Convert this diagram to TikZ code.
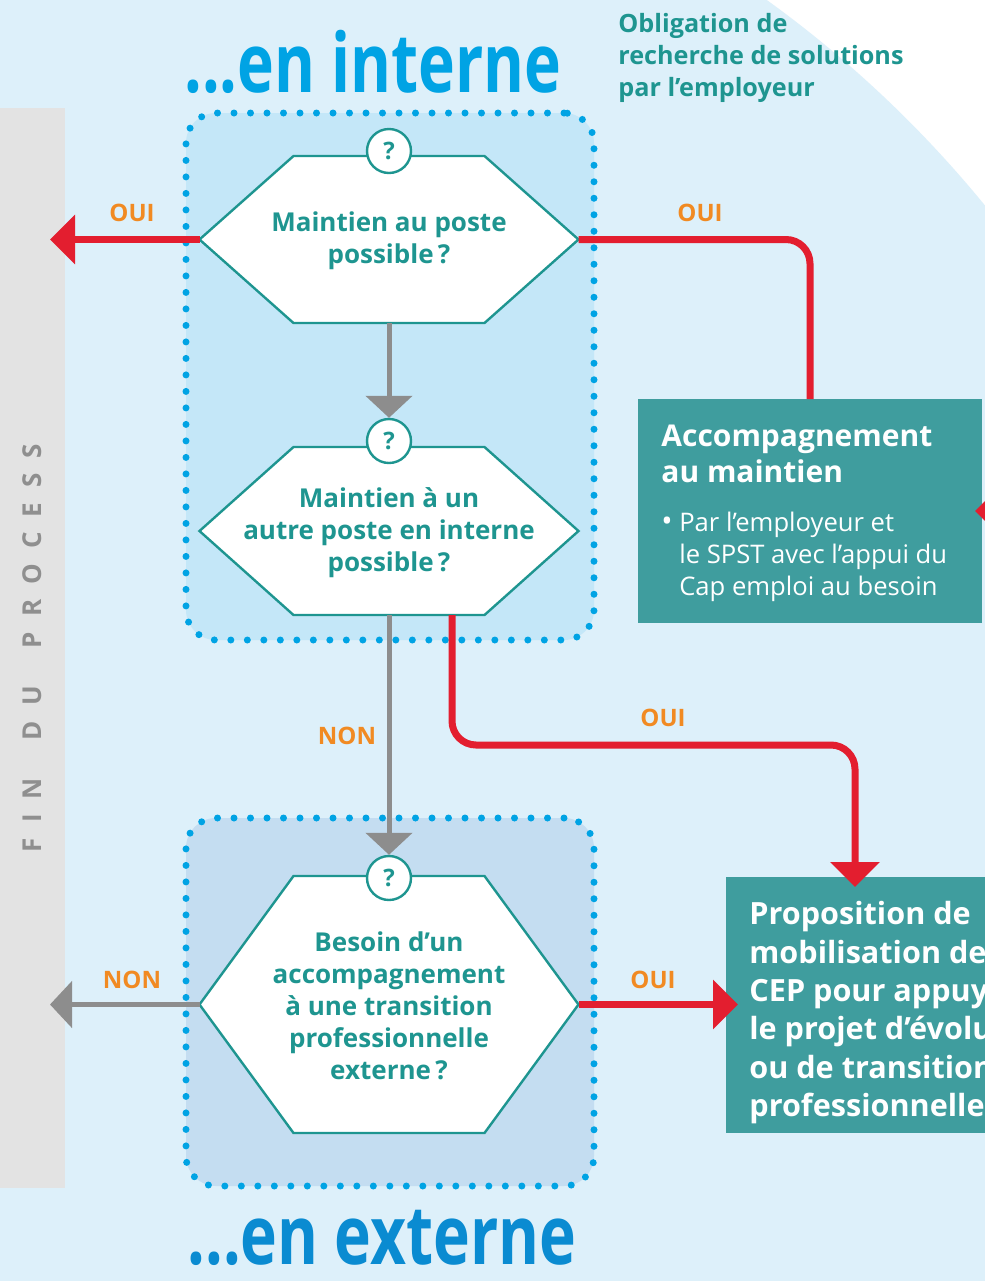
\documentclass[tikz,border=0pt]{standalone}
\usepackage{fontspec}
\setmainfont{Open Sans}
\newfontfamily\headfont[FakeStretch=0.76]{Open Sans}
\usetikzlibrary{arrows.meta,positioning,calc}
\definecolor{bgblue}{HTML}{DDF0FA}
\definecolor{zonetop}{HTML}{C4E7F8}
\definecolor{zonebot}{HTML}{C4DDF1}
\definecolor{dotblue}{HTML}{00A3E4}
\definecolor{titledark}{HTML}{0A8BD1}
\definecolor{qteal}{HTML}{1E9590}
\definecolor{boxteal}{HTML}{3F9D9E}
\definecolor{alertred}{HTML}{E31E2F}
\definecolor{answerorange}{HTML}{F18A22}
\definecolor{arrowgray}{HTML}{8D8D8D}
\definecolor{bargray}{HTML}{E3E3E3}
\definecolor{fingray}{HTML}{8F8F8F}

\pgfdeclarelayer{bg}
\pgfdeclarelayer{hex}
\pgfsetlayers{bg,hex,main}

\tikzset{
  zone/.style={
    draw=dotblue,
    line width=3.5pt,
    line cap=round,
    dash pattern=on 0pt off 8.25pt,
    rounded corners=15pt,
    minimum width=204pt,
    inner sep=0pt,
    outer sep=0pt
  },
  finbar/.style={
    fill=bargray,
    minimum width=32.5pt,
    minimum height=540pt,
    inner sep=0pt,
    outer sep=0pt
  },
  headline/.style={
    font=\headfont\bfseries\fontsize{41}{41}\selectfont,
    inner sep=0pt
  },
  hexq/.style={
    inner sep=0pt,
    outer sep=0pt,
    minimum width=189.5pt,
    align=center,
    text=qteal,
    font=\bfseries\fontsize{13}{16}\selectfont
  },
  hexline/.style={
    draw=qteal,
    fill=white,
    line width=1.2pt
  },
  qmark/.style={
    circle,
    draw=qteal,
    line width=1.2pt,
    fill=white,
    minimum size=22pt,
    inner sep=0pt,
    text=qteal,
    font=\bfseries\fontsize{12}{12}\selectfont
  },
  tealbox/.style={
    fill=boxteal,
    anchor=north west,
    inner sep=0pt,
    outer sep=0pt
  },
  boxtext/.style={
    align=left,
    text=white,
    inner sep=0pt
  },
  redline/.style={
    draw=alertred,
    line width=3.5pt
  },
  redarrow/.style={
    redline,
    -{Triangle[length=12.5pt,width=24pt]}
  },
  grayarrow/.style={
    draw=arrowgray,
    line width=2.5pt,
    -{Triangle[length=11pt,width=23pt]}
  },
  answer/.style={
    text=answerorange,
    font=\bfseries\fontsize{12}{12}\selectfont
  }
}

\newcommand\hexpath[1]{%
  \filldraw[hexline] (#1.west) -- ($(#1.north west)+(94,0)$)
    -- ($(#1.north east)+(-94,0)$) -- (#1.east)
    -- ($(#1.south east)+(-94,0)$) -- ($(#1.south west)+(94,0)$) -- cycle;}

\begin{document}
\begin{tikzpicture}[x=0.5pt,y=-0.5pt]
\useasboundingbox (0,0) rectangle (985,1281);

% background
\begin{pgfonlayer}{bg}
\fill[white] (0,0) rectangle (985,1281);
\begin{scope}
  \clip (0,0) rectangle (985,1281);
  \fill[bgblue] (97,930) circle[radius=1146];
\end{scope}
\node[finbar] (finbar) at (32.5,648) {};
\node[zone, fill=zonetop, minimum height=263.5pt] (intzone) at (390,376.5) {};
\node[zone, fill=zonebot, minimum height=184pt] (extzone) at (390,1002) {};
\end{pgfonlayer}

\node[rotate=90, text=fingray, font=\bfseries\fontsize{13}{13}\selectfont\addfontfeature{LetterSpace=58}] (fintext) at (finbar) {FIN\hspace{8pt} DU\hspace{8pt} PROCESS};

\node[headline, text=dotblue] (interne) at (373,62) {...en interne};
\node[headline, text=titledark] (externe) at (382,1238) {...en externe};
\node[anchor=north west, align=left, inner sep=0pt, text=qteal, font=\bfseries\fontsize{12.6}{16}\selectfont] (oblig) at (618,13) {Obligation de\\recherche de solutions\\par l’employeur};

% questions
\node[hexq, minimum height=83.5pt] (h1) at (389,239.5) {\strut Maintien au poste\\possible\,?};
\node[hexq, minimum height=84pt] (h2) at (389,531) {\strut Maintien à un\\autre poste en interne\\possible\,?};
\node[hexq, minimum height=128.5pt] (h3) at (389,1004.5) {\strut Besoin d’un\\accompagnement\\à une transition\\professionnelle\\externe\,?};
\begin{pgfonlayer}{hex}
\hexpath{h1}
\hexpath{h2}
\hexpath{h3}
\end{pgfonlayer}
\node[qmark] (q1) at (389,151) {?};
\node[qmark] (q2) at (389,441) {?};
\node[qmark] (q3) at (389,878) {?};

% results
\node[tealbox, minimum width=172pt, minimum height=112pt] (acc) at (638,399) {};
\node[boxtext, font=\bfseries\fontsize{15}{18}\selectfont, below right=13pt and 11.5pt of acc.north west] (acctitle) {Accompagnement\\au maintien};
\node[boxtext, font=\fontsize{12.8}{15.9}\selectfont, below right=14pt and 0pt of acctitle.south west] (accbody) {{\fontsize{15}{15}\selectfont•} Par l’employeur et\\\hphantom{{\fontsize{15}{15}\selectfont•} }le SPST avec l’appui du\\\hphantom{{\fontsize{15}{15}\selectfont•} }Cap emploi au besoin};

\node[tealbox, minimum width=160pt, minimum height=128pt] (cep) at (726,877) {};
\node[boxtext, font=\bfseries\fontsize{15.3}{19.2}\selectfont, below right=12pt and 11.5pt of cep.north west] (ceptext) {Proposition de\\mobilisation de\\CEP pour appuyer\\le projet d’évolution\\ou de transition\\professionnelle};
\coordinate (cepin) at ($(cep.north west)+(129,0)$);
\coordinate (bend) at (0,745);

% connectors
\draw[redarrow, shorten >=-7.5pt] (h1.west) -- (finbar.east |- h1.west);
\draw[redline, rounded corners=12pt] (h1.east) -| (acc.north);
\draw[grayarrow] (h1.south) -- (q2.north);
\draw[grayarrow] (h2.south) -- (q3.north);
\draw[redarrow, rounded corners=12pt, shorten >=-5pt] ($(h2.south)+(63,0)$) |- (cepin |- bend) -- (cepin);
\draw[redarrow, shorten >=-6pt] (h3.east) -- (cep.west |- h3.east);
\draw[grayarrow, shorten >=-7.5pt] (h3.west) -- (finbar.east |- h3.west);
\draw[redarrow, shorten >=-3.5pt] ($(acc.east)+(40,0)$) -- (acc.east);

\node[answer] (ouileft) at (132,213) {OUI};
\node[answer] (ouiright) at (700,213) {OUI};
\node[answer] (non) at (347,736) {NON};
\node[answer] (ouiautre) at (663,718) {OUI};
\node[answer] (ouicep) at (653,980) {OUI};
\node[answer] (nonleft) at (132,980) {NON};
\end{tikzpicture}
\end{document}
